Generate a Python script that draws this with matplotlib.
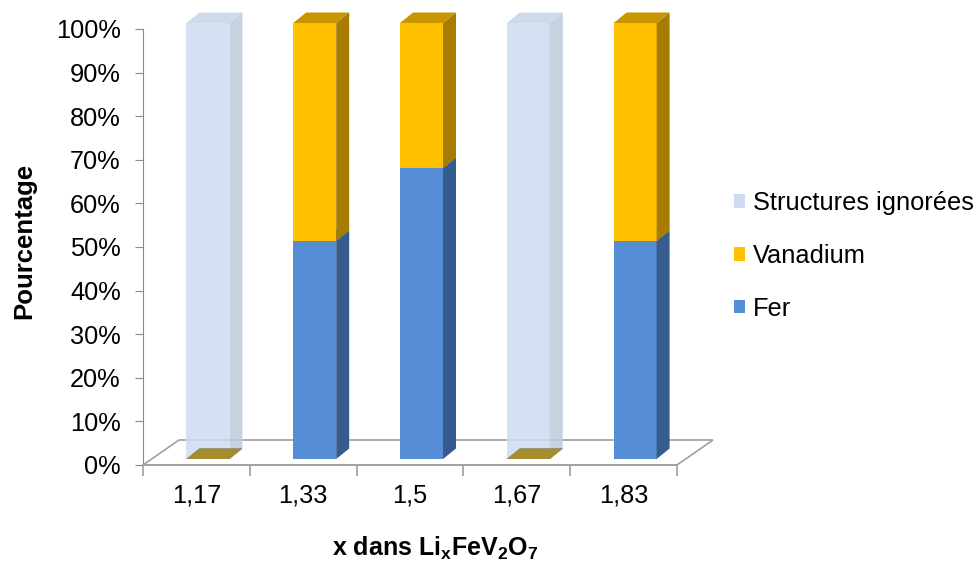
import matplotlib
matplotlib.use("Agg")
import matplotlib.pyplot as plt
from matplotlib.patches import Polygon, Patch
import numpy as np

# ---- data -------------------------------------------------------------
categories = ["1,17", "1,33", "1,5", "1,67", "1,83"]
fer = [0, 50, 66.7, 0, 50]
vanadium = [0, 50, 33.3, 0, 50]
ignorees = [100, 0, 0, 100, 0]
series_names = ["Fer", "Vanadium", "Structures ignorées"]
y_ticks = list(range(0, 101, 10))

# ---- style ------------------------------------------------------------
plt.rcParams["font.family"] = ["Liberation Sans", "DejaVu Sans"]
plt.rcParams["mathtext.fontset"] = "custom"
plt.rcParams["mathtext.rm"] = "Liberation Sans"
plt.rcParams["mathtext.bf"] = "Liberation Sans:bold"

# front / side / top shades for each series, plus alpha
shades = {
    "Fer": ("#558ED5", "#365C8D", "#4A7CBD", 1.0),
    "Vanadium": ("#FFC000", "#A67D00", "#C89600", 1.0),
    "Structures ignorées": ("#CCDCF1", "#BFCADA", "#C6D3E7", 0.85),
}
flat_face = {"Fer": "#3F6AA2", "Vanadium": "#A68C2C", "Structures ignorées": "#C3D1E6"}
grey = "#A0A0A0"
tick_size = 18.3

W, H = 976, 562
fig = plt.figure(figsize=(W / 100, H / 100), dpi=100)
ax = fig.add_axes([143 / W, 1 - 465 / H, 534 / W, 436 / H])
ax.set_xlim(-0.5, 4.5)
ax.set_ylim(0, 100)

# pixel -> data conversions used for the pseudo-3D depth
px_x = 534 / 5
px_y = 436 / 100
shift_x, shift_y = 11.5 / px_x, 6 / px_y
depth_x, depth_y = 13 / px_x, 10.5 / px_y
floor_x, floor_y = 36 / px_x, 25 / px_y
bar_w = 43 / px_x

# floor of the 3D box
floor = Polygon([(-0.5, 0), (4.5, 0), (4.5 + floor_x, floor_y), (-0.5 + floor_x, floor_y)],
                closed=True, facecolor="white", edgecolor=grey, lw=1.2,
                clip_on=False, zorder=1)
ax.add_patch(floor)

x = np.arange(len(categories))
values = [np.array(fer, float), np.array(vanadium, float), np.array(ignorees, float)]
totals = sum(values)
base = np.zeros(len(categories))

for name, vals in zip(series_names, values):
    front, side, top, alpha = shades[name]
    left = x + shift_x - bar_w / 2
    right = left + bar_w
    ax.bar(x + shift_x, vals, width=bar_w, bottom=base + shift_y, color=front,
           alpha=alpha, linewidth=0, zorder=2, clip_on=False)
    for i in range(len(x)):
        b = base[i] + shift_y
        t = b + vals[i]
        if vals[i] > 0:
            ax.add_patch(Polygon([(right[i], b), (right[i] + depth_x, b + depth_y),
                                  (right[i] + depth_x, t + depth_y), (right[i], t)],
                                 closed=True, facecolor=side, alpha=alpha, lw=0,
                                 zorder=2, clip_on=False))
            ax.add_patch(Polygon([(left[i], t), (right[i], t),
                                  (right[i] + depth_x, t + depth_y), (left[i] + depth_x, t + depth_y)],
                                 closed=True, facecolor=top, alpha=alpha, lw=0,
                                 zorder=2, clip_on=False))
        elif base[i] < totals[i]:
            # empty segment under a filled one: a flat face on the floor
            ax.add_patch(Polygon([(left[i], t), (right[i], t),
                                  (right[i] + depth_x, t + depth_y), (left[i] + depth_x, t + depth_y)],
                                 closed=True, facecolor=flat_face[name], lw=0,
                                 zorder=3, clip_on=False))
    base = base + vals

# axes
for s in ("top", "right"):
    ax.spines[s].set_visible(False)
ax.spines["left"].set_color("#8A8A8A")
ax.spines["bottom"].set_color(grey)
ax.spines["bottom"].set_linewidth(1.2)

ax.set_yticks(y_ticks)
ax.set_yticklabels([f"{v}%" for v in y_ticks], fontsize=tick_size)
ax.tick_params(axis="y", length=6, color="#8A8A8A", pad=10)

ax.set_xticks(x)
ax.set_xticklabels(categories, fontsize=tick_size)
ax.set_xticks(np.arange(-0.5, len(categories), 1.0), minor=True)
ax.tick_params(axis="x", which="major", length=0, pad=13)
ax.tick_params(axis="x", which="minor", length=8, color=grey, width=1.2)

fig.text(24 / W, 1 - 241 / H, "Pourcentage", rotation=90, fontsize=18.5,
         fontweight="bold", ha="center", va="center")
fig.text(435 / W, 1 - 548 / H,
         r"x dans Li$_\mathbf{x}$FeV$_\mathbf{2}$O$_\mathbf{7}$",
         fontsize=18, fontweight="bold", ha="center", va="center")

handles = [Patch(facecolor=shades[n][0], edgecolor="none") for n in series_names[::-1]]
fig.legend(handles, series_names[::-1], loc="center left",
           bbox_to_anchor=(734 / W, 1 - 256 / H), frameon=False, fontsize=tick_size,
           handlelength=0.45, handleheight=0.45, handletextpad=0.28,
           labelspacing=1.13, borderpad=0, borderaxespad=0)

fig.savefig("out.png", dpi=100)
